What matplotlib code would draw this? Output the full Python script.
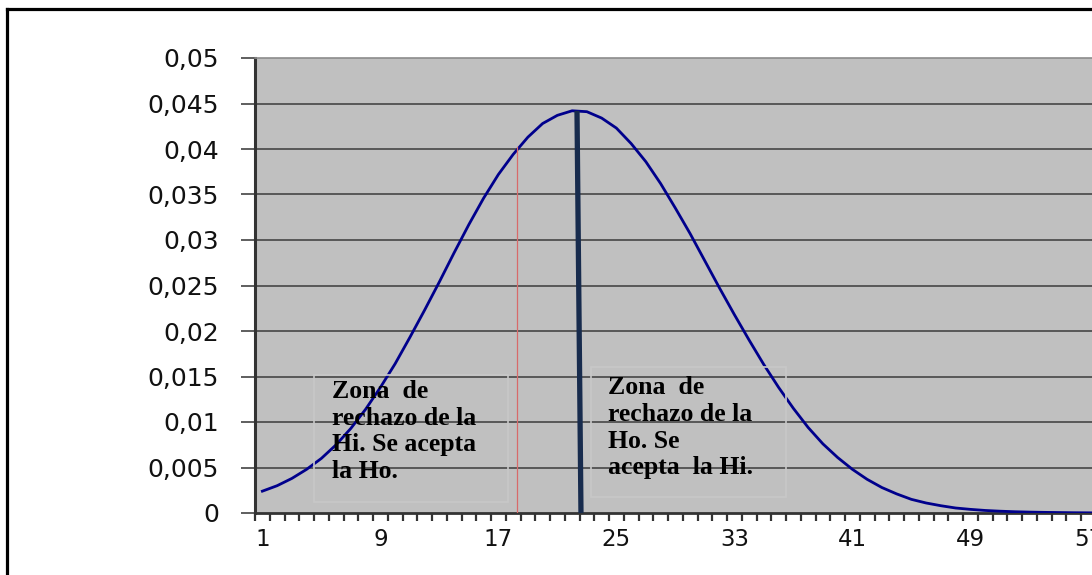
import numpy as np
import matplotlib
matplotlib.use('Agg')
import matplotlib.pyplot as plt
from matplotlib.patches import Rectangle
from matplotlib.lines import Line2D
from matplotlib.ticker import FixedLocator, FuncFormatter

# data (category index -> density)
categories = list(range(1, 61))
density = [0.0024, 0.0030, 0.0038, 0.0048, 0.0060, 0.0075, 0.0093, 0.0114, 0.0138, 0.0164,
	0.0193, 0.0223, 0.0254, 0.0286, 0.0317, 0.0346, 0.0372, 0.0394, 0.0413, 0.0428,
	0.0437, 0.0442, 0.0441, 0.0434, 0.0423, 0.0406, 0.0386, 0.0362, 0.0335, 0.0307,
	0.0277, 0.0247, 0.0218, 0.0190, 0.0163, 0.0138, 0.0115, 0.0094, 0.0076, 0.0061,
	0.0048, 0.0037, 0.0028, 0.0021, 0.0015, 0.0011, 0.0008, 0.00055, 0.0004, 0.00028,
	0.0002, 0.00014, 0.0001, 0.00007, 0.00005, 0.00003, 0.00002, 0.00001, 0.00001, 0.00001]
xtick_labels = [1, 9, 17, 25, 33, 41, 49, 57]
yticks = [0, 0.005, 0.01, 0.015, 0.02, 0.025, 0.03, 0.035, 0.04, 0.045, 0.05]

critical_x = 18.26        # red line (critical value)
critical_y = 0.0402
stat_x = [22.33, 22.6]    # thick line (observed statistic)
stat_y = [0.0442, 0.0]

text_left = 'Zona  de\nrechazo de la\nHi. Se acepta\nla Ho.'
text_right = 'Zona  de\nrechazo de la\nHo. Se\nacepta  la Hi.'

W, H = 1092, 575
fig = plt.figure(figsize=(W / 100, H / 100), dpi=100)
fig.patch.set_facecolor('white')

ax = fig.add_axes([255 / W, 62 / H, 885 / W, 455 / H])
ax.set_facecolor('#c0c0c0')
ax.set_xlim(0.5, 60.5)
ax.set_ylim(0, 0.05)

# gridlines
for v in yticks[1:-1]:
	ax.axhline(v, color='#3c3c3c', lw=1.1, zorder=1)

ax.plot(categories, density, color='#00008c', lw=2.0, zorder=3)
ax.plot([critical_x, critical_x], [0, critical_y], color='#d86a6a', lw=0.9, zorder=4)
ax.plot(stat_x, stat_y, color='#172b4d', lw=3.8, zorder=5, solid_capstyle='butt')

# text boxes
ax.add_patch(Rectangle((4.5, 0.00121), 13.15, 0.01395, fill=False,
	edgecolor='#c8c8c8', lw=1.2, zorder=6))
ax.add_patch(Rectangle((23.28, 0.00176), 13.22, 0.01428, fill=False,
	edgecolor='#c8c8c8', lw=1.2, zorder=6))
tfont = dict(family='Liberation Serif', weight='bold', size=18.5)
ax.text(5.72, 0.0146, text_left, va='top', ha='left', linespacing=1.2,
	zorder=7, **tfont)
ax.text(24.43, 0.0150, text_right, va='top', ha='left', linespacing=1.2,
	zorder=7, **tfont)

# axes styling
ax.spines['left'].set_color('#333333')
ax.spines['left'].set_linewidth(2.2)
ax.spines['bottom'].set_color('#333333')
ax.spines['bottom'].set_linewidth(2.0)
ax.spines['top'].set_color('#8c8c8c')
ax.spines['top'].set_linewidth(1.2)
ax.spines['right'].set_visible(False)

ax.set_yticks(yticks)
ax.yaxis.set_major_formatter(FuncFormatter(lambda v, p: ('%g' % round(v, 4)).replace('.', ',')))
ax.tick_params(axis='y', length=10, width=1.1, color='#333333', pad=16,
	labelsize=18, labelcolor='#111111')

ax.xaxis.set_major_locator(FixedLocator(xtick_labels))
ax.set_xticklabels([str(v) for v in xtick_labels])
ax.xaxis.set_minor_locator(FixedLocator(np.arange(0.5, 61, 1)))
ax.tick_params(axis='x', which='major', length=0, pad=11, labelsize=16.5,
	labelcolor='#111111')
ax.tick_params(axis='x', which='minor', length=6, width=1.6, color='#333333')

for lab in ax.get_xticklabels() + ax.get_yticklabels():
	lab.set_family('DejaVu Sans')

# outer frame (left and top edges visible)
fig.add_artist(Line2D([7 / W, 7 / W], [0, 1 - 8.5 / H], transform=fig.transFigure,
	color='black', lw=2.3))
fig.add_artist(Line2D([7 / W, 1], [1 - 8.5 / H, 1 - 8.5 / H], transform=fig.transFigure,
	color='black', lw=2.3))

fig.savefig('out.png', dpi=100)
